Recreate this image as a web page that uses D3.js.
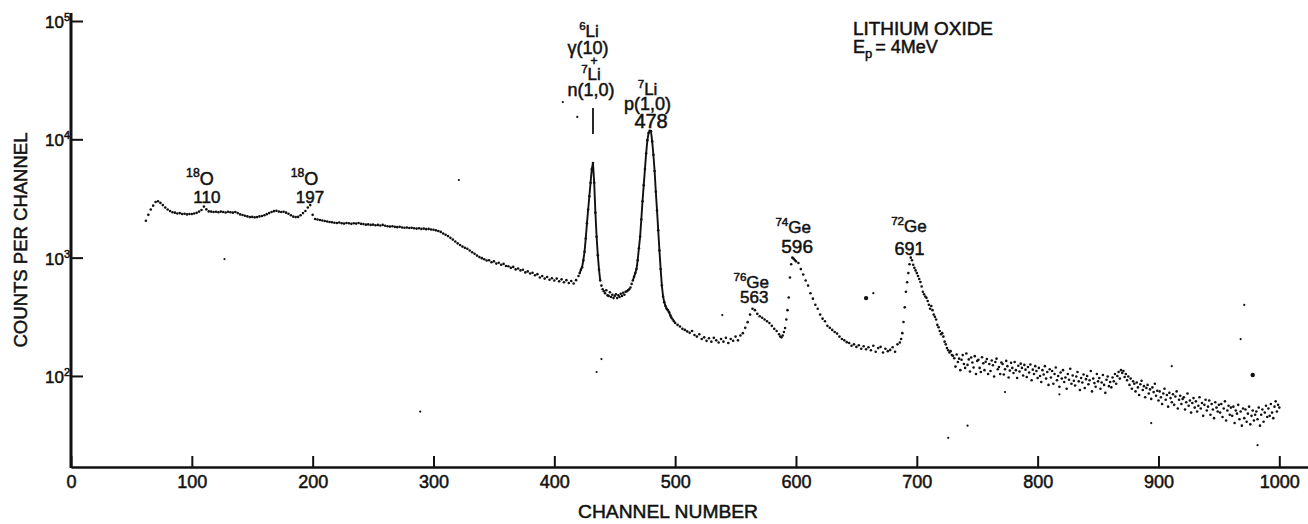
<!DOCTYPE html>
<html>
<head>
<meta charset="utf-8">
<script src="https://cdn.jsdelivr.net/npm/d3@7"></script>
<style>
  html, body { margin: 0; padding: 0; background: #fff; }
  svg { display: block; }
  text { font-family: "Liberation Sans", Arial, sans-serif; fill: #111; stroke: #111; stroke-width: 0.5; }
</style>
</head>
<body>
<svg id="chart" width="1308" height="524"></svg>
<script>
// ---- Spectrum: counts per channel, Li2O target, Ep = 4 MeV ----
// Channels 62..420, every 2nd channel
const baselineCounts = [
  2050, 2300, 2550, 2750, 2950, 3000, 2900, 2780, 2650, 2550,
  2480, 2420, 2400, 2360, 2380, 2340, 2350, 2320, 2340, 2340,
  2360, 2390, 2450, 2530, 2700, 2560, 2460, 2450, 2430, 2440,
  2420, 2450, 2430, 2410, 2440, 2420, 2400, 2430, 2380, 2320,
  2290, 2260, 2230, 2200, 2210, 2190, 2200, 2230, 2250, 2280,
  2330, 2380, 2430, 2470, 2490, 2450, 2430, 2440, 2400, 2350,
  2280, 2220, 2200, 2210, 2280, 2380, 2480, 2650, 2780, 2300,
  2120, 2100, 2080, 2060, 2040, 2020, 2000, 1990, 1970, 1960,
  1980, 1950, 1940, 1960, 1950, 1930, 1950, 1940, 1960, 1930,
  1920, 1900, 1910, 1890, 1900, 1880, 1890, 1870, 1890, 1860,
  1840, 1830, 1840, 1820, 1810, 1820, 1800, 1790, 1800, 1780,
  1790, 1770, 1760, 1770, 1750, 1760, 1740, 1750, 1730, 1720,
  1700, 1680, 1650, 1600, 1560, 1520, 1470, 1420, 1370, 1320,
  1280, 1240, 1210, 1190, 1150, 1110, 1080, 1040, 1010, 990,
  970, 945, 950, 915, 930, 890, 905, 870, 885, 850,
  845, 820, 835, 795, 810, 780, 790, 750, 765, 735,
  745, 710, 725, 680, 700, 665, 685, 650, 670, 640,
  665, 630, 655, 620, 645, 610, 635, 605, 645, 700
];
// Channels 421..500, the two lithium peaks
const lithiumCounts = [
  740, 790, 830, 950, 1120, 1450, 1950, 2550, 3300, 4300,
  5600, 6300, 4300, 2400, 1500, 1050, 790, 640, 580, 540,
  520, 500, 530, 480, 475, 510, 465, 485, 455, 475,
  490, 455, 480, 465, 495, 475, 505, 485, 515, 520,
  530, 540, 560, 600, 640, 690, 740, 800, 950, 1200,
  1500, 2100, 3000, 4100, 5600, 7600, 9800, 11300, 11800, 11700,
  9600, 7400, 5400, 3600, 2500, 1700, 1150, 800, 580, 470,
  420, 390, 370, 360, 345, 325, 310, 300, 290, 280
];
// Channels 502..586, every 2nd channel (76Ge line at 563)
const ge76Counts = [
  270, 262, 250, 245, 238, 232, 240, 222, 215, 225,
  205, 212, 198, 208, 195, 210, 200, 192, 205, 195,
  210, 190, 205, 198, 215, 200, 220, 230, 255, 285,
  330, 370, 360, 335, 320, 310, 300, 290, 280, 265,
  250, 240, 225
];
// Channels 587..600 (rise of the 74Ge line at 596)
const ge74RiseCounts = [215, 212, 220, 235, 254, 300, 360, 460, 680, 880, 1000, 980, 955, 930];
// Channels 602..684, every 2nd channel
const ge74TailCounts = [
  900, 800, 720, 640, 580, 500, 450, 400, 370, 330,
  305, 290, 265, 255, 245, 235, 228, 215, 205, 200,
  193, 190, 180, 185, 176, 182, 170, 178, 168, 175,
  165, 180, 160, 172, 176, 158, 170, 162, 166, 175,
  160, 185
];
// Channels 686..1000 (72Ge line at 691 and the high-energy tail)
const highCounts = [
  192, 205, 230, 286, 380, 515, 620, 740, 880, 1000, 950, 870, 820, 780, 740,
  700, 660, 622, 570, 515, 490, 470, 457, 430, 400,
  370, 390, 360, 330, 316, 300, 270, 258, 240, 225,
  230, 215, 195, 185, 172, 165, 158, 162, 150, 148,
  141, 120, 152, 131, 140, 112, 137, 150, 126, 117,
  155, 124, 138, 109, 143, 130, 118, 147, 104, 134,
  137, 117, 108, 144, 128, 112, 132, 139, 104, 126,
  110, 135, 123, 99, 131, 140, 114, 119, 104, 130,
  126, 103, 114, 134, 121, 97, 111, 129, 117, 106,
  131, 112, 96, 122, 109, 127, 117, 101, 124, 113,
  98, 119, 107, 125, 92, 113, 104, 121, 110, 96,
  117, 100, 89, 112, 103, 121, 95, 108, 84, 114,
  97, 110, 86, 104, 118, 92, 100, 81, 107, 95,
  112, 89, 97, 78, 104, 93, 115, 86, 101, 91,
  83, 99, 108, 90, 76, 96, 88, 103, 79, 94,
  100, 85, 92, 110, 74, 95, 87, 81, 104, 90,
  96, 78, 88, 102, 84, 72, 93, 99, 82, 89,
  80, 97, 90, 104, 86, 100, 108, 95, 112, 106,
  110, 98, 104, 92, 99, 84, 95, 78, 90, 86,
  74, 88, 80, 69, 85, 91, 76, 82, 66, 79,
  84, 71, 77, 64, 80, 73, 86, 68, 75, 62,
  74, 66, 58, 71, 78, 63, 69, 55, 72, 65,
  60, 70, 57, 67, 74, 53, 63, 68, 58, 64,
  66, 52, 60, 71, 56, 62, 49, 59, 65, 54,
  61, 50, 56, 66, 53, 59, 46, 57, 63, 51,
  55, 62, 47, 58, 52, 44, 60, 54, 50, 57,
  49, 58, 45, 53, 61, 42, 51, 56, 47, 54,
  46, 55, 40, 51, 48, 57, 43, 50, 38, 53,
  44, 52, 41, 48, 55, 39, 46, 51, 42, 47,
  50, 43, 54, 38, 47, 52, 41, 49, 56, 45,
  53, 46, 58, 49, 44, 55, 61, 50, 57, 54
];
// [first channel, channel step, counts]
const segments = [
  [62, 2, baselineCounts],
  [421, 1, lithiumCounts],
  [502, 2, ge76Counts],
  [587, 1, ge74RiseCounts],
  [602, 2, ge74TailCounts],
  [686, 1, highCounts]
];
// Isolated single-channel events [channel, counts]
const strayEvents = [
  [407, 20650], [419, 15450], [127, 973], [321, 4530], [289, 50], [539, 327],
  [439, 139], [435, 108], [664, 501], [971, 398], [968, 205], [911, 121],
  [773, 73], [742, 38], [726, 30], [894, 40], [818, 70], [982, 26]
];
const heavyEvents = [[658, 455], [978, 102]];

// Axis ticks
const xTickValues = [0, 100, 200, 300, 400, 500, 600, 700, 800, 900, 1000];
const yTickValues = [1e2, 1e3, 1e4, 1e5];

// Channel ranges drawn as a continuous trace (the steep lithium peaks)
const tracedRanges = [[421, 438], [465, 497]];

// ---- Build points ----
const points = [];
segments.forEach(([first, step, counts]) => {
  counts.forEach((n, i) => points.push({ ch: first + i * step, n }));
});

// ---- Scales ----
const svg = d3.select("#chart");
const x = d3.scaleLinear().domain([0, 1024]).range([71, 1308.3]);
const y = d3.scaleLog().domain([17, 1e5]).range([467, 21]);
const ink = "#111";

// ---- Axes ----
const xAxis = d3.axisBottom(x)
  .tickValues(xTickValues)
  .tickSizeInner(-11)
  .tickSizeOuter(0)
  .tickPadding(8)
  .tickFormat(d3.format("d"));
const gx = svg.append("g")
  .attr("transform", `translate(0,${y.range()[0]})`)
  .call(xAxis);
gx.attr("font-family", null);
gx.select(".domain").attr("stroke", ink).attr("stroke-width", 2.6);
gx.selectAll(".tick line").attr("stroke", ink).attr("stroke-width", 2);
gx.selectAll(".tick text")
  .attr("font-size", 18)
  .attr("fill", ink);

const yAxis = d3.axisLeft(y)
  .tickValues(yTickValues)
  .tickSizeInner(-12)
  .tickSizeOuter(0)
  .tickFormat("");
const gy = svg.append("g")
  .attr("transform", `translate(${x(0)},0)`)
  .call(yAxis);
gy.select(".domain").remove();
gy.selectAll(".tick line").attr("stroke", ink).attr("stroke-width", 2);
gy.append("line")
  .attr("x1", 0).attr("x2", 0)
  .attr("y1", y(1e5) - 8).attr("y2", y.range()[0] + 1)
  .attr("stroke", ink).attr("stroke-width", 3);

// Decade labels: 10 with a raised exponent, one text element each
yTickValues.forEach(v => {
  const e = Math.round(Math.log10(v));
  const t = svg.append("text")
    .attr("x", x(0) - 26).attr("y", y(v) + 7)
    .attr("font-size", 17);
  t.append("tspan").text("10");
  t.append("tspan").attr("dy", -7).attr("font-size", 11).text(e);
});

// Axis titles
svg.append("text")
  .attr("x", 668).attr("y", 518)
  .attr("text-anchor", "middle")
  .attr("font-size", 19)
  .attr("textLength", 180).attr("lengthAdjust", "spacingAndGlyphs")
  .text("CHANNEL  NUMBER");
svg.append("text")
  .attr("transform", "translate(27,240) rotate(-90)")
  .attr("text-anchor", "middle")
  .attr("font-size", 19)
  .attr("textLength", 215).attr("lengthAdjust", "spacingAndGlyphs")
  .text("COUNTS  PER  CHANNEL");

// ---- Spectrum ----
const line = d3.line().x(d => x(d.ch)).y(d => y(d.n));
tracedRanges.forEach(([a, b]) => {
  svg.append("path")
    .datum(points.filter(p => p.ch >= a && p.ch <= b))
    .attr("d", line)
    .attr("fill", "none")
    .attr("stroke", ink)
    .attr("stroke-width", 1.9)
    .attr("stroke-linejoin", "round");
});
svg.append("g").selectAll("circle")
  .data(points)
  .join("circle")
  .attr("cx", d => x(d.ch))
  .attr("cy", d => y(d.n))
  .attr("r", 1.3)
  .attr("fill", ink);

svg.append("g").selectAll("circle")
  .data(strayEvents)
  .join("circle")
  .attr("cx", d => x(d[0]))
  .attr("cy", d => y(d[1]))
  .attr("r", 1.1)
  .attr("fill", ink);
svg.append("g").selectAll("circle")
  .data(heavyEvents)
  .join("circle")
  .attr("cx", d => x(d[0]))
  .attr("cy", d => y(d[1]))
  .attr("r", 2.2)
  .attr("fill", ink);

// ---- Peak annotations ----
// Each block is one text element; every line is a centred chunk with
// optional raised (isotope mass) parts.
function labelBlock(lines) {
  const t = svg.append("text").attr("text-anchor", "middle");
  lines.forEach(([px, py, size, parts]) => {
    let shift = 0;
    parts.forEach(([s, kind], i) => {
      const target = kind === "sup" ? -0.42 * size : 0;
      const ts = t.append("tspan")
        .attr("font-size", kind ? size * 0.68 : size)
        .text(s);
      if (i === 0) ts.attr("x", px).attr("y", py + target);
      else ts.attr("dy", target - shift);
      shift = target;
    });
  });
  return t;
}

// 18O lines
labelBlock([
  [x(110) - 4, 185, 18, [["18", "sup"], ["O"]]],
  [x(110) + 3, 203, 17, [["110"]]]
]);
labelBlock([
  [x(197) - 4.5, 185, 18, [["18", "sup"], ["O"]]],
  [x(197) + 1, 203, 17, [["197"]]]
]);

// 6Li(p,γ) + 7Li(p,n) line
labelBlock([
  [x(432) - 4, 37, 17, [["6", "sup"], ["Li"]]],
  [x(432) - 5, 54, 18, [["γ(10)"]]],
  [x(432) + 1, 65, 12, [["+"]]],
  [x(432) - 2, 80, 17, [["7", "sup"], ["Li"]]],
  [x(432) - 2, 96, 18, [["n(1,0)"]]]
]);
svg.append("line")
  .attr("x1", x(432)).attr("x2", x(432))
  .attr("y1", 108).attr("y2", 134)
  .attr("stroke", ink).attr("stroke-width", 1.8);

// 7Li(p,p') line
labelBlock([
  [x(478) - 1, 95, 17, [["7", "sup"], ["Li"]]],
  [x(478) - 1, 110, 18, [["p(1,0)"]]],
  [x(478) + 2.5, 128, 20, [["478"]]]
]);

// Germanium lines
labelBlock([
  [x(563), 288, 17, [["76", "sup"], ["Ge"]]],
  [x(563) + 3, 303, 17, [["563"]]]
]);
labelBlock([
  [x(596) + 2, 233, 17, [["74", "sup"], ["Ge"]]],
  [x(596) + 6, 253, 19, [["596"]]]
]);
labelBlock([
  [x(691) + 3, 232, 17, [["72", "sup"], ["Ge"]]],
  [x(691) + 3.5, 255, 18, [["691"]]]
]);

// ---- Title block ----
const title = svg.append("text").attr("font-size", 18);
title.append("tspan")
  .attr("x", 853).attr("y", 35)
  .attr("textLength", 140).attr("lengthAdjust", "spacingAndGlyphs")
  .text("LITHIUM  OXIDE");
title.append("tspan").attr("x", 853).attr("y", 53).text("E");
title.append("tspan").attr("dy", 5).attr("font-size", 13).text("p");
title.append("tspan").attr("dy", -5).attr("dx", 3).text("= 4MeV");
</script>
</body>
</html>
